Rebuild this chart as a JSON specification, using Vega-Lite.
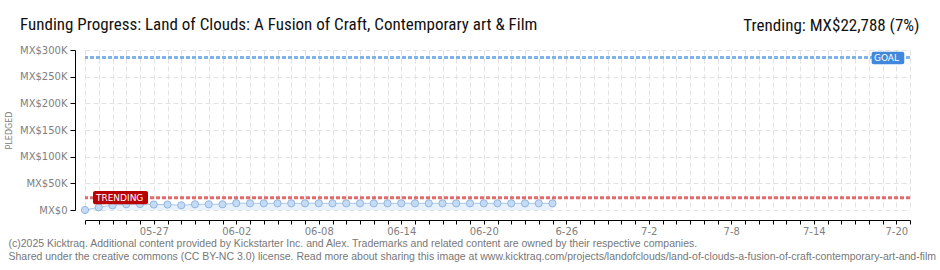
{
  "$schema": "https://vega.github.io/schema/vega-lite/v6.json",
  "width": 825,
  "height": 160,
  "autosize": {"type": "none"},
  "padding": {"left": 85, "top": 50, "right": 30, "bottom": 60},
  "background": "white",
  "config": {"view": {"stroke": null}, "font": "DejaVu Sans"},
  "title": {
    "text": "Funding Progress: Land of Clouds: A Fusion of Craft, Contemporary art & Film",
    "anchor": "start",
    "frame": "group",
    "dx": -65,
    "offset": -31,
    "baseline": "alphabetic",
    "font": "Liberation Sans Narrow, Roboto Condensed, Roboto",
    "fontSize": 17,
    "fontWeight": "normal",
    "color": "#111111"
  },
  "datasets": {
    "pledges": [
      {"date": "2025-05-22", "pledged": 0},
      {"date": "2025-05-23", "pledged": 5100},
      {"date": "2025-05-24", "pledged": 8800},
      {"date": "2025-05-25", "pledged": 10700},
      {"date": "2025-05-26", "pledged": 11200},
      {"date": "2025-05-27", "pledged": 10300},
      {"date": "2025-05-28", "pledged": 10300},
      {"date": "2025-05-29", "pledged": 8800},
      {"date": "2025-05-30", "pledged": 10700},
      {"date": "2025-05-31", "pledged": 10700},
      {"date": "2025-06-01", "pledged": 10700},
      {"date": "2025-06-02", "pledged": 12800},
      {"date": "2025-06-03", "pledged": 12500},
      {"date": "2025-06-04", "pledged": 12500},
      {"date": "2025-06-05", "pledged": 12500},
      {"date": "2025-06-06", "pledged": 12500},
      {"date": "2025-06-07", "pledged": 12500},
      {"date": "2025-06-08", "pledged": 12500},
      {"date": "2025-06-09", "pledged": 12500},
      {"date": "2025-06-10", "pledged": 12500},
      {"date": "2025-06-11", "pledged": 12500},
      {"date": "2025-06-12", "pledged": 12500},
      {"date": "2025-06-13", "pledged": 12500},
      {"date": "2025-06-14", "pledged": 12500},
      {"date": "2025-06-15", "pledged": 12500},
      {"date": "2025-06-16", "pledged": 12500},
      {"date": "2025-06-17", "pledged": 12500},
      {"date": "2025-06-18", "pledged": 12500},
      {"date": "2025-06-19", "pledged": 12500},
      {"date": "2025-06-20", "pledged": 12500},
      {"date": "2025-06-21", "pledged": 12500},
      {"date": "2025-06-22", "pledged": 12500},
      {"date": "2025-06-23", "pledged": 12500},
      {"date": "2025-06-24", "pledged": 12500},
      {"date": "2025-06-25", "pledged": 12500}
    ],
    "one": [{}]
  },
  "layer": [
    {
      "data": {"name": "pledges"},
      "mark": {"type": "area", "color": "#e9f2fc"},
      "encoding": {
        "x": {
          "field": "date",
          "type": "temporal",
          "scale": {
            "type": "utc",
            "domain": [
              {"year": 2025, "month": 5, "date": 22, "utc": true},
              {"year": 2025, "month": 7, "date": 21, "utc": true}
            ]
          },
          "axis": {
            "orient": "bottom",
            "offset": 10,
            "tickCount": {"interval": "day", "step": 1},
            "labelExpr": "{'05-27':'05-27','06-02':'06-02','06-08':'06-08','06-14':'06-14','06-20':'06-20','06-26':'6-26','07-02':'7-2','07-08':'7-8','07-14':'7-14','07-20':'7-20'}[utcFormat(datum.value,'%m-%d')] || ''",
            "labelOverlap": false,
            "labelFlush": false,
            "labelFont": "DejaVu Sans",
            "labelFontSize": 10,
            "labelColor": "#808080",
            "labelPadding": 2,
            "domainColor": "#000000",
            "tickColor": "#000000",
            "tickSize": 4,
            "grid": true,
            "gridColor": "#e2e2e2",
            "gridDash": [5, 3],
            "title": [
              "(c)2025 Kicktraq. Additional content provided by Kickstarter Inc. and Alex. Trademarks and related content are owned by their respective companies.",
              "Shared under the creative commons (CC BY-NC 3.0) license. Read more about sharing this image at www.kicktraq.com/projects/landofclouds/land-of-clouds-a-fusion-of-craft-contemporary-art-and-film"
            ],
            "titleX": -77,
            "titleY": 18,
            "titleAlign": "left",
            "titleAnchor": "start",
            "titleBaseline": "top",
            "titleFont": "Liberation Sans",
            "titleFontSize": 10.5,
            "titleFontWeight": "normal",
            "titleColor": "#777777",
            "titleLineHeight": 13,
            "titleLimit": 2000
          }
        },
        "y": {
          "field": "pledged",
          "type": "quantitative",
          "scale": {"domain": [0, 300000], "nice": false},
          "axis": {
            "offset": 10,
            "tickCount": 12,
            "values": [0, 25000, 50000, 75000, 100000, 125000, 150000, 175000, 200000, 225000, 250000, 275000, 300000],
            "labelExpr": "datum.value % 50000 === 0 ? (datum.value === 0 ? 'MX$0' : 'MX$' + (datum.value / 1000) + 'K') : ''",
            "labelOverlap": false,
            "labelFont": "DejaVu Sans",
            "labelFontSize": 10,
            "labelColor": "#808080",
            "labelPadding": 3,
            "domainColor": "#000000",
            "tickColor": {"condition": {"test": "datum.value % 50000 === 0", "value": "#000000"}, "value": "#e00000"},
            "tickSize": {"condition": {"test": "datum.value % 50000 === 0", "value": 5}, "value": 3},
            "grid": true,
            "gridColor": "#e2e2e2",
            "gridDash": [5, 3],
            "gridOpacity": {"condition": {"test": "datum.value % 50000 === 0", "value": 1}, "value": 0},
            "title": "PLEDGED",
            "titleFont": "DejaVu Sans",
            "titleFontSize": 8,
            "titleFontWeight": "normal",
            "titleColor": "#808080",
            "titlePadding": 6
          }
        }
      }
    },
    {
      "data": {"name": "pledges"},
      "mark": {"type": "line", "color": "#a8c8ec", "strokeWidth": 1},
      "encoding": {
        "x": {"field": "date", "type": "temporal", "axis": null},
        "y": {"field": "pledged", "type": "quantitative"}
      }
    },
    {
      "data": {"name": "pledges"},
      "mark": {"type": "point", "shape": "circle", "filled": true, "size": 52, "fill": "#c4dbf5", "stroke": "#93b5de", "strokeWidth": 1, "opacity": 1},
      "encoding": {
        "x": {"field": "date", "type": "temporal", "axis": null},
        "y": {"field": "pledged", "type": "quantitative"}
      }
    },
    {
      "data": {"name": "one"},
      "mark": {"type": "rule", "color": "#80b3ea", "strokeWidth": 3, "strokeDash": [4, 2]},
      "encoding": {"y": {"datum": 286000, "type": "quantitative"}}
    },
    {
      "data": {"name": "one"},
      "mark": {"type": "rule", "color": "#e36a6a", "strokeWidth": 3, "strokeDash": [4, 2]},
      "encoding": {"y": {"datum": 22788, "type": "quantitative"}}
    },
    {
      "data": {"name": "one"},
      "mark": {"type": "rect", "color": "#3f88db", "cornerRadius": 2},
      "encoding": {
        "x": {"datum": {"year": 2025, "month": 7, "date": 18, "hours": 5, "utc": true}, "type": "temporal", "axis": null},
        "x2": {"datum": {"year": 2025, "month": 7, "date": 20, "hours": 14, "utc": true}},
        "y": {"datum": 296800, "type": "quantitative"},
        "y2": {"datum": 273200}
      }
    },
    {
      "data": {"name": "one"},
      "mark": {"type": "text", "color": "white", "font": "DejaVu Sans", "fontSize": 9, "align": "left", "baseline": "middle"},
      "encoding": {
        "x": {"datum": {"year": 2025, "month": 7, "date": 18, "hours": 9, "utc": true}, "type": "temporal", "axis": null},
        "y": {"datum": 285000, "type": "quantitative"},
        "text": {"value": "GOAL"}
      }
    },
    {
      "data": {"name": "one"},
      "mark": {"type": "rect", "color": "#b80000", "cornerRadius": 2},
      "encoding": {
        "x": {
          "datum": {"year": 2025, "month": 5, "date": 22, "hours": 14, "utc": true},
          "type": "temporal",
          "axis": {
            "orient": "top",
            "domain": false,
            "ticks": false,
            "labels": false,
            "grid": false,
            "title": "Trending:  MX$22,788 (7%)",
            "titleX": 834,
            "titleY": -20,
            "titleAlign": "right",
            "titleAnchor": "end",
            "titleBaseline": "alphabetic",
            "titleFont": "Liberation Sans Narrow, Roboto Condensed, Roboto",
            "titleFontSize": 17,
            "titleFontWeight": "normal",
            "titleColor": "#111111"
          }
        },
        "x2": {"datum": {"year": 2025, "month": 5, "date": 26, "hours": 14, "utc": true}},
        "y": {"datum": 35600, "type": "quantitative"},
        "y2": {"datum": 10700}
      }
    },
    {
      "data": {"name": "one"},
      "mark": {"type": "text", "color": "white", "font": "DejaVu Sans", "fontSize": 9, "align": "left", "baseline": "middle"},
      "encoding": {
        "x": {"datum": {"year": 2025, "month": 5, "date": 22, "hours": 19, "utc": true}, "type": "temporal", "axis": null},
        "y": {"datum": 23300, "type": "quantitative"},
        "text": {"value": "TRENDING"}
      }
    }
  ],
  "resolve": {"axis": {"x": "independent"}}
}
